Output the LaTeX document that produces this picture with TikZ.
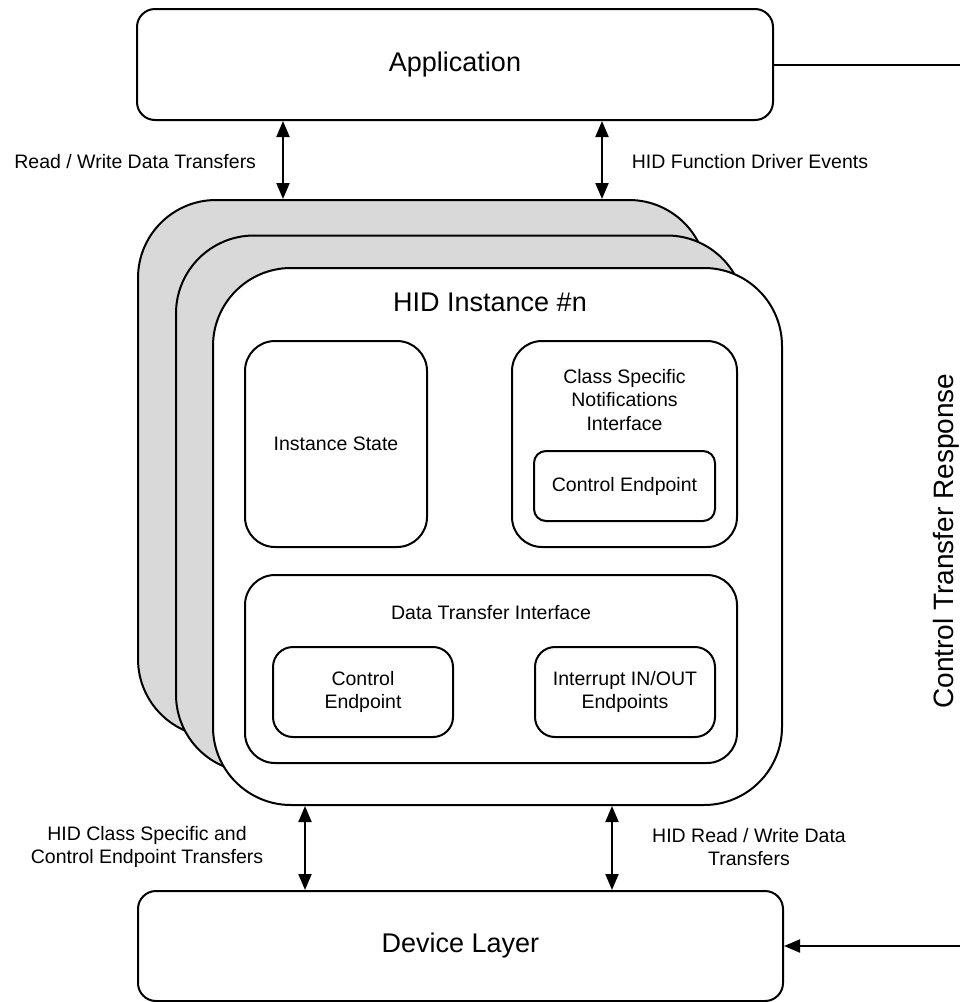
\documentclass[tikz,border=0pt]{standalone}
\usepackage{fontspec}
\setmainfont{Liberation Sans}
\usepackage{tikz}
\usetikzlibrary{arrows.meta}

\begin{document}
\begin{tikzpicture}[
  x=1pt,y=-1pt,line width=2pt,
  box/.style={draw,rounded corners=#1,fill=white,inner sep=0pt,align=center,font=\fontsize{19.5}{23.5}\selectfont},
  box/.default=30pt,
  card/.style={draw,rounded corners=78pt,minimum width=569pt,minimum height=537pt,inner sep=0pt},
  txt/.style={align=center,inner sep=0pt,font=\fontsize{19.5}{23.5}\selectfont},
  big/.style={font=\fontsize{27}{32}\selectfont},
  >={Triangle[length=16pt,width=13pt]}]
  \useasboundingbox (0,0) rectangle (960,1002);
  \node[box=18pt,big,minimum width=636pt,minimum height=111pt](app) at(455,64.5){Application};
  \node[box=18pt,big,minimum width=645pt,minimum height=110pt](dev) at(460.5,946){Device Layer};
  \node[card,fill=black!15](back) at(422.5,468.5){};
  \node[card,fill=black!15](mid) at(460.5,504){};
  \node[card,fill=white](inst) at(497.5,536.5){};
  \node[txt,big](insttitle) at(490,302){HID Instance \#n};
  \node[box,minimum width=182pt,minimum height=206pt](state) at(336,444){Instance State};
  \node[box,minimum width=225pt,minimum height=206pt](notif) at(624.5,444){};
  \node[txt](notiftitle) at(624.5,400){Class Specific\\Notifications\\Interface};
  \node[box=12pt,minimum width=181pt,minimum height=70pt](notifep) at(624.5,486){Control Endpoint};
  \node[box,minimum width=492pt,minimum height=188pt](dti) at(491,669){};
  \node[txt](dtititle) at(491,613){Data Transfer Interface};
  \node[box=20pt,minimum width=180pt,minimum height=90pt](dtctl) at(363,692){Control\\Endpoint};
  \node[box=20pt,minimum width=180pt,minimum height=90pt](dtint) at(625,692){Interrupt IN/OUT\\Endpoints};
  \node[txt,anchor=east](rwlabel) at(257,162){Read / Write Data Transfers};
  \node[txt](evlabel) at(750,162){HID Function Driver Events};
  \node[txt](cslabel) at(147,847){HID Class Specific and\\Control Endpoint Transfers};
  \node[txt](hrwlabel) at(749,847){HID Read / Write Data\\Transfers};
  \node[txt,rotate=90,font=\fontsize{28}{32}\selectfont](ctrlabel) at(946,541){Control Transfer Response};
  \coordinate(ctra) at(960,64.5);
  \coordinate(ctrd) at(960,946);
  \draw[<->](app.south -| 283,0)--(back.north -| 283,0);
  \draw[<->](app.south -| 602,0)--(back.north -| 602,0);
  \draw[<->](inst.south -| 305,0)--(dev.north -| 305,0);
  \draw[<->](inst.south -| 612,0)--(dev.north -| 612,0);
  \draw(app.east)--(ctra);
  \draw[->](ctrd)--(dev.east);
\end{tikzpicture}
\end{document}
